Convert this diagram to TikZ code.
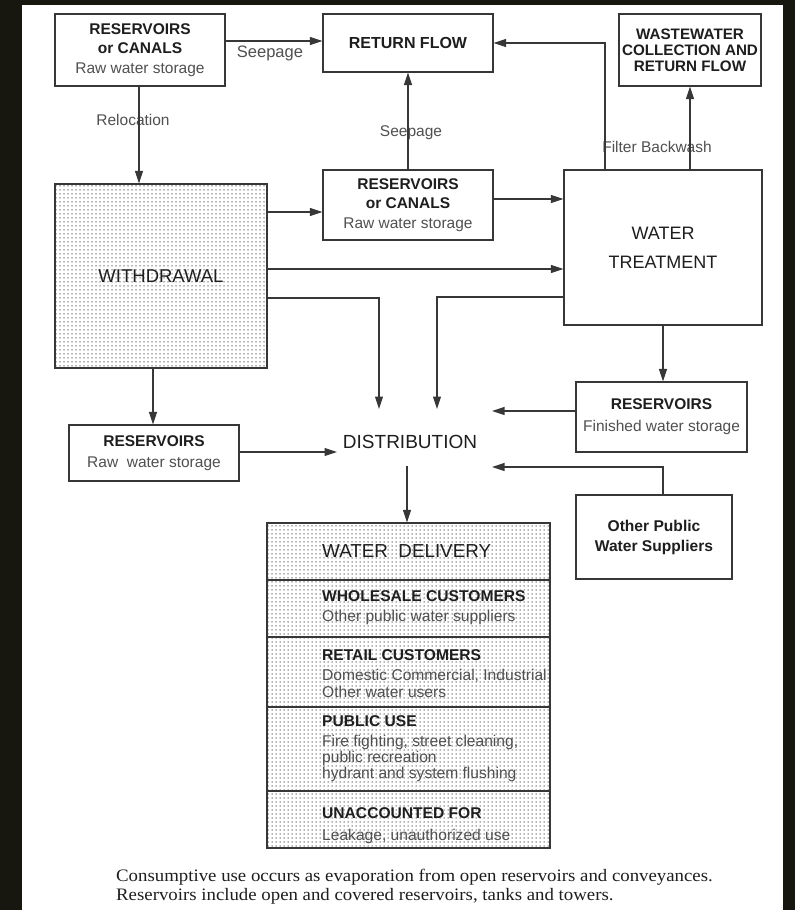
\documentclass[tikz,border=0pt]{standalone}
\usepackage{fontspec}
\setmainfont{Liberation Serif}
\setsansfont{Liberation Sans}
\newfontfamily\capfont[FakeStretch=1.075]{Liberation Serif}
\usetikzlibrary{arrows.meta,patterns.meta}
\definecolor{framec}{RGB}{24,23,15}
\definecolor{linec}{RGB}{55,55,55}
\definecolor{txt}{RGB}{30,30,30}
\definecolor{subtxt}{RGB}{80,80,80}
\tikzdeclarepattern{name=mydots,type=uncolored,
  bounding box={(-1pt,-1pt) and (1pt,1pt)},
  tile size={(4pt,4pt)},
  code={\fill (0pt,0pt) circle (0.75pt);}}
\newcommand{\fs}[2]{\fontsize{#1}{#2}\selectfont}
\begin{document}
\begin{tikzpicture}[x=1pt,y=-1pt,
  box/.style={draw=linec,line width=1.2pt,inner sep=0pt,align=center,text=txt,font=\sffamily},
  resbox/.style={box,font=\sffamily\bfseries\fs{15.5}{19}},
  dotbox/.style={box,pattern=mydots,pattern color=black!60},
  arr/.style={draw=linec,line width=1.1pt,-{Triangle[length=12.5pt,width=8pt]}},
  lbl/.style={font=\sffamily\fs{15.5}{17},text=subtxt,inner sep=0pt},
  hd/.style={font=\sffamily\bfseries\fs{15.6}{17},text=txt,inner sep=0pt,anchor=base west},
  sb/.style={font=\sffamily\fs{15.6}{17},text=subtxt,inner sep=0pt,anchor=base west}]
\fill[framec] (0,0) rectangle (795,910);
\fill[white] (22,5) rectangle (783,910);
\useasboundingbox (0,0) rectangle (795,910);

% boxes
\node[resbox,minimum width=170pt,minimum height=72pt] (rc1) at (140,50)
  {RESERVOIRS\\or CANALS\\[1pt]{\mdseries\fs{15.5}{19}\color{subtxt}Raw water storage}};
\node[box,minimum width=170pt,minimum height=58pt,font=\sffamily\bfseries\fs{16}{17}] (rf) at (408,43) {RETURN FLOW};
\node[box,minimum width=142pt,minimum height=72pt,font=\sffamily\bfseries\fs{15.2}{16}] (ww) at (690,50)
  {WASTEWATER\\COLLECTION AND\\RETURN FLOW};
\node[dotbox,minimum width=212pt,minimum height=184pt,font=\sffamily\fs{18.5}{20}] (wd) at (161,276) {WITHDRAWAL};
\node[resbox,minimum width=170pt,minimum height=70pt] (rc2) at (408,205)
  {RESERVOIRS\\or CANALS\\[1pt]{\mdseries\fs{15.5}{19}\color{subtxt}Raw water storage}};
\node[box,minimum width=198pt,minimum height=155pt,font=\sffamily\fs{18}{29}] (wt) at (663,247.5) {WATER\\TREATMENT};
\node[resbox,minimum width=171pt,minimum height=70pt] (rfin) at (661.5,417)
  {RESERVOIRS\\[3pt]{\mdseries\fs{15.5}{19}\color{subtxt}Finished water storage}};
\node[resbox,minimum width=170pt,minimum height=56pt] (rraw) at (154,453)
  {RESERVOIRS\\[2pt]{\mdseries\fs{15.5}{19}\color{subtxt}Raw\ \ water storage}};
\node[box,minimum width=156pt,minimum height=84pt,font=\sffamily\bfseries\fs{15.6}{20}] (opw) at (654,537)
  {Other Public\\Water Suppliers};
\node[font=\sffamily\fs{19}{20},text=txt,inner sep=0pt] (dist) at (410,442) {DISTRIBUTION};

% water delivery stack
\node[dotbox,minimum width=283pt,minimum height=325pt] (del) at (408.5,685.5) {};
\foreach \yy in {580,637,707,791}{\draw[draw=linec,line width=1.2pt] (del.west |- 0,\yy) -- (del.east |- 0,\yy);}
\node[sb,font=\sffamily\fs{18.8}{20},text=txt] (t0) at (322,557) {WATER\ \ DELIVERY};
\node[hd] (t1) at (322,601) {WHOLESALE CUSTOMERS};
\node[sb] (t2) at (322,621) {Other public water suppliers};
\node[hd] (t3) at (322,660) {RETAIL CUSTOMERS};
\node[sb] (t4) at (322,680) {Domestic Commercial, Industrial};
\node[sb] (t5) at (322,697) {Other water users};
\node[hd] (t6) at (322,726) {PUBLIC USE};
\node[sb] (t7) at (322,746) {Fire fighting, street cleaning,};
\node[sb] (t8) at (322,762) {public recreation};
\node[sb] (t9) at (322,778) {hydrant and system flushing};
\node[hd] (t10) at (322,818) {UNACCOUNTED FOR};
\node[sb] (t11) at (322,840) {Leakage, unauthorized use};

% labels
\node[lbl,font=\sffamily\fs{16.5}{17}] (l1) at (270,53) {Seepage};
\node[lbl] (l2) at (133,120) {Relocation};
\node[lbl] (l3) at (411,133) {Seepage};
\node[lbl] (l4) at (657,147) {Filter Backwash};

% connectors
\draw[arr] (rc1.east |- 0,41) -- (rf.west |- 0,41);
\draw[arr] (rc1.south -| 139,0) -- (wd.north -| 139,0);
\draw[arr] (rc2.north) -- (rf.south);
\draw[arr] (wt.north -| 605,0) |- (rf.east |- 0,43);
\draw[arr] (wt.north -| 690,0) -- (ww.south);
\draw[arr] (wd.east |- 0,212) -- (rc2.west |- 0,212);
\draw[arr] (rc2.east |- 0,199) -- (wt.west |- 0,199);
\draw[arr] (wd.east |- 0,269) -- (wt.west |- 0,269);
\coordinate (d1) at (379,409);
\coordinate (d2) at (437,409);
\coordinate (d3) at (492,411);
\coordinate (d4) at (492,467);
\coordinate (d5) at (337,452);
\coordinate (d6) at (407,466);
\draw[arr] (wd.east |- 0,298) -| (d1);
\draw[arr] (wt.west |- 0,297) -| (d2);
\draw[arr] (wd.south -| 153,0) -- (rraw.north -| 153,0);
\draw[arr] (rraw.east |- d5) -- (d5);
\draw[arr] (wt.south -| 663,0) -- (rfin.north -| 663,0);
\draw[arr] (rfin.west |- d3) -- (d3);
\draw[arr] (opw.north -| 663,0) |- (d4);
\draw[arr] (d6) -- (d6 |- del.north);

% caption
\node[anchor=base west,inner sep=0pt,font=\capfont\fs{17.5}{19},text=txt,align=left] (cap) at (116,881)
  {Consumptive use occurs as evaporation from open reservoirs and conveyances.};
\node[anchor=base west,inner sep=0pt,font=\capfont\fs{17.5}{19},text=txt,align=left] (cap2) at (116,900)
  {Reservoirs include open and covered reservoirs, tanks and towers.};
\end{tikzpicture}
\end{document}
